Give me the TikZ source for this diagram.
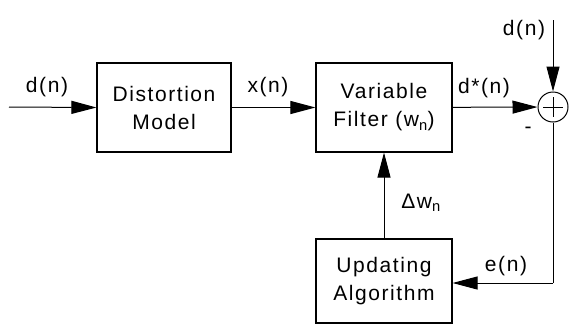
\documentclass[tikz,border=0pt]{standalone}
\usepackage{fontspec}
\setmainfont{Liberation Sans}[LetterSpace=7.5]
\usetikzlibrary{arrows.meta}
\begin{document}
\begin{tikzpicture}[x=1pt,y=-1pt,
  line width=1pt,
  every node/.style={font=\fontsize{21}{28}\selectfont},
  blockbox/.style={draw, line width=1.1pt, align=center, inner sep=0pt,
    minimum width=#1, minimum height=89pt},
  arr/.style={-{Triangle[length=25pt,width=13pt]}},
  lbl/.style={anchor=base, inner sep=0pt}]
\useasboundingbox (0,0) rectangle (569,325);

% blocks
\node[blockbox=134pt] (dm) at (164,107.5) {Distortion\\Model};
\node[blockbox=136pt] (vf) at (384,107.5) {Variable\\Filter (w\textsubscript{n})};
\node[blockbox=136pt, minimum height=84pt] (ua) at (384,281) {Updating\\Algorithm};

% summing junction
\node[draw, circle, minimum size=30pt, inner sep=0pt] (sum) at (553,107) {};
\draw (sum.center) ++(-10,0) -- ++(20,0);
\draw (sum.center) ++(0,-10) -- ++(0,20);

% free ends
\coordinate (in) at (9,107);
\coordinate (top) at (553,20);
\coordinate (corner) at (553,283);

% connectors
\draw[arr] (in) -- (dm.west);
\draw[arr] (dm) -- (vf);
\draw[arr] (vf) -- (sum);
\draw[arr] (top) -- (sum);
\draw (sum) -- (corner);
\draw[arr] (corner) -- (ua.east |- corner);
\draw[arr] (ua) -- (vf);

% signal labels
\node[lbl] (l1) at (47,92) {d(n)};
\node[lbl] (l2) at (268,92) {x(n)};
\node[lbl] (l3) at (484,93) {d*(n)};
\node[lbl] (l4) at (524,35) {d(n)};
\node[lbl] (l5) at (528,133) {-};
\node[lbl] (l6) at (506,271) {e(n)};
\node[lbl] (l7) at (421,208) {Δw\textsubscript{n}};
\end{tikzpicture}
\end{document}
